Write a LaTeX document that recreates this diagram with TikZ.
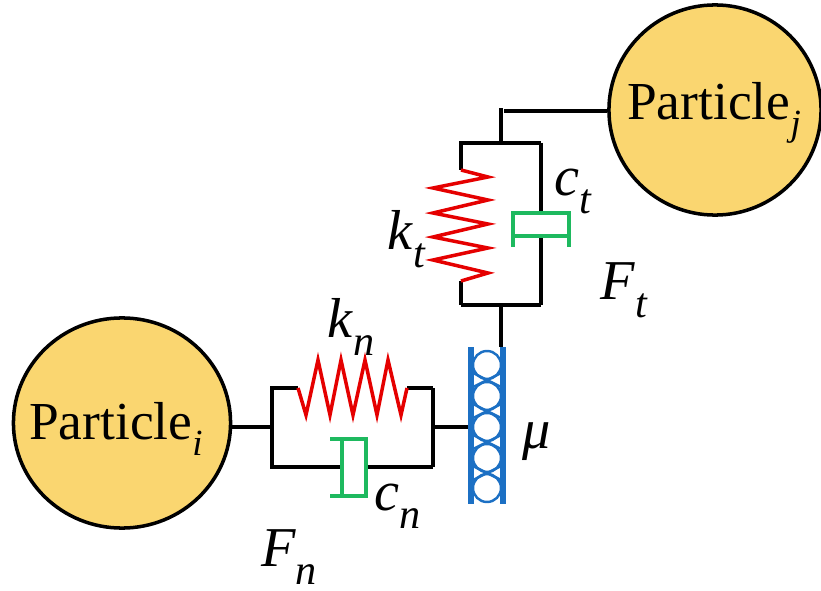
\documentclass[tikz,border=0pt]{standalone}
\usepackage{fontspec}
\setmainfont{Liberation Serif}
\usetikzlibrary{positioning,shapes.geometric}
\definecolor{particlefill}{RGB}{250,214,112}
\definecolor{sliderblue}{RGB}{28,112,196}
\definecolor{dampgreen}{RGB}{30,185,95}
\newcommand{\sublabel}[2]{\textit{#1}\raisebox{-.32em}{\fontsize{12pt}{12pt}\selectfont\textit{#2}}}

\begin{document}
\begin{tikzpicture}
	[x=.01cm,y=-.01cm,
	particle/.style={ellipse,draw=black,line width=1pt,fill=particlefill,inner sep=0pt,minimum width=2.17cm,minimum height=2.1cm},
	tag/.style={inner sep=0pt,font=\fontsize{16pt}{16pt}\selectfont},
	title/.style={inner sep=0pt,font=\fontsize{15.2pt}{15.2pt}\selectfont},
	edge/.style={-,black,line width=1pt,line join=miter},
	spring/.style={red!90!black,line width=1pt,line join=miter},
	damper/.style={dampgreen,line width=1pt},
	rail/.style={sliderblue,line width=1.5pt},
	ball/.style={sliderblue,line width=.7pt}]
	\useasboundingbox (0,0) rectangle (821,591);

	\node[particle] (pi) at (122,423) {};
	\node[particle,minimum width=2.12cm] (pj) at (715,110) {};
	\node[title] (ni) at (116,429) {Particle\raisebox{-.3em}{\fontsize{10.5pt}{10.5pt}\selectfont\textit{i}}};
	\node[title] (nj) at (714,113) {Particle\raisebox{-.3em}{\fontsize{10.5pt}{10.5pt}\selectfont\textit{j}}};

	% normal branch
	\coordinate (nl) at (272,427);
	\coordinate (ntl) at (272,388);
	\coordinate (nbl) at (272,467);
	\coordinate (nr) at (433,427);
	\coordinate (ntr) at (433,388);
	\coordinate (nbr) at (433,467);
	\coordinate (ns1) at (298,388);
	\coordinate (ns2) at (407,388);
	\coordinate (nd1) at (342,467);
	\coordinate (nd2) at (366,467);
	\coordinate (sl) at (471,427);

	% tangential branch
	\coordinate (ttm) at (501,143);
	\coordinate (ttl) at (461,143);
	\coordinate (ttr) at (541,143);
	\coordinate (tbm) at (501,305);
	\coordinate (tbl) at (461,305);
	\coordinate (tbr) at (541,305);
	\coordinate (ts1) at (461,170);
	\coordinate (ts2) at (461,281);
	\coordinate (td1) at (541,213);
	\coordinate (td2) at (541,236);
	\coordinate (st) at (501,347);
	\coordinate (tc) at (501,108);
	\coordinate (tj) at (504,111);

	\foreach \from/\to in {nr/sl,ttm/tc,tbm/st,ns2/ntr,nd2/nbr,ttr/td1,td2/tbr,ts2/tbl}
	\draw[edge] (\from) -- (\to);
	\draw[edge] (pi.east |- nl) -- (nl);
	\draw[edge] (tj) -- (pj.west |- tj);
	\draw[edge] (ns1) -- (ntl) -- (nbl) -- (nd1);
	\draw[edge] (ntr) -- (nbr);
	\draw[edge] (ts1) -- (ttl) -- (ttr);
	\draw[edge] (tbl) -- (tbr);

	\draw[spring] (ns1) -- (306,415) -- (318,360) -- (330,415) -- (341,360) -- (353,415) -- (365,360) -- (377,415) -- (388,360) -- (401,415) -- (ns2);
	\draw[spring] (ts1) -- (488,177) -- (433,188) -- (488,200) -- (433,213) -- (488,224) -- (433,237) -- (488,248) -- (433,260) -- (488,273) -- (ts2);

	\draw[damper] (330,439) -- (366,439) -- (366,496) -- (330,496);
	\draw[damper] (342,439) -- (342,496);
	\draw[damper] (513,247) -- (513,213) -- (569,213) -- (569,247);
	\draw[damper] (513,236) -- (569,236);

	\foreach \y in {365,396,427,458,488}
	\draw[ball] (487,\y) circle (14);
	\foreach \y in {380,411,442,473}{
	\draw[ball] (473,\y-7) -- (501,\y+7);
	\draw[ball] (473,\y+7) -- (501,\y-7);
	}
	\draw[rail] (471,347) -- (471,504);
	\draw[rail] (503,347) -- (503,504);

	\node[tag] (kn) at (351,327) {\sublabel{k}{n}};
	\node[tag] (cn) at (398,506) {\sublabel{c}{n}};
	\node[tag] (fn) at (289,557) {\sublabel{F}{n}};
	\node[tag] (mu) at (537,442) {\textit{μ}};
	\node[tag] (kt) at (407,239) {\sublabel{k}{t}};
	\node[tag] (ct) at (573,191) {\sublabel{c}{t}};
	\node[tag] (ft) at (624,290) {\sublabel{F}{t}};
\end{tikzpicture}
\end{document}
